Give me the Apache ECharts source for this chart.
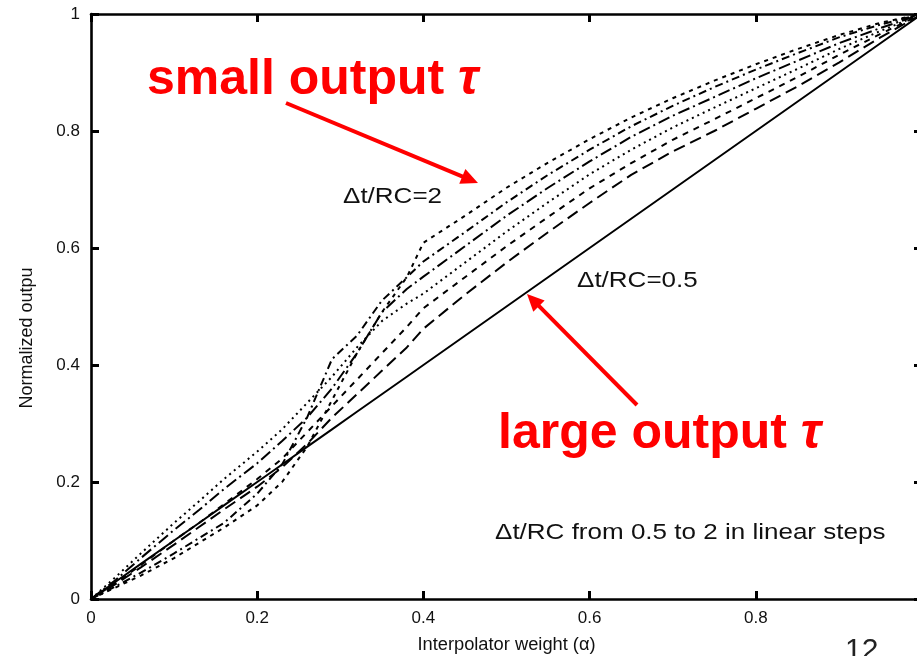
<!DOCTYPE html>
<html><head><meta charset="utf-8">
<script src="https://cdn.jsdelivr.net/npm/echarts@6/dist/echarts.min.js"></script>
<style>html,body{margin:0;padding:0;background:#fff}#c{width:917px;height:656px}</style>
</head><body><div id="c"></div>
<script>
// ---- data ----
const xValues   = [0, 0.03, 0.06, 0.1, 0.13, 0.16, 0.2, 0.23, 0.26, 0.29, 0.32, 0.35, 0.38, 0.4, 0.45, 0.5, 0.55, 0.6, 0.65, 0.7, 0.75, 0.8, 0.85, 0.9, 0.95, 1.0];
const dtRC_050  = [0, 0.03, 0.06, 0.1, 0.13, 0.16, 0.2, 0.23, 0.26, 0.29, 0.32, 0.35, 0.38, 0.4, 0.45, 0.5, 0.55, 0.6, 0.65, 0.7, 0.75, 0.8, 0.85, 0.9, 0.95, 1.0];
const dtRC_075  = [0, 0.026, 0.054, 0.093, 0.123, 0.153, 0.192, 0.225, 0.265, 0.31, 0.35, 0.39, 0.43, 0.462, 0.52, 0.575, 0.627, 0.677, 0.725, 0.765, 0.8, 0.838, 0.876, 0.917, 0.96, 1.0];
const dtRC_100  = [0, 0.028, 0.058, 0.1, 0.13, 0.162, 0.205, 0.24, 0.285, 0.33, 0.375, 0.42, 0.465, 0.497, 0.55, 0.603, 0.653, 0.702, 0.745, 0.785, 0.82, 0.856, 0.892, 0.93, 0.966, 1.0];
const dtRC_125  = [0, 0.038, 0.078, 0.13, 0.167, 0.205, 0.252, 0.29, 0.335, 0.38, 0.43, 0.475, 0.505, 0.522, 0.575, 0.628, 0.678, 0.726, 0.768, 0.806, 0.84, 0.873, 0.906, 0.94, 0.971, 1.0];
const dtRC_150  = [0, 0.033, 0.07, 0.118, 0.152, 0.188, 0.232, 0.27, 0.31, 0.36, 0.42, 0.49, 0.53, 0.551, 0.603, 0.655, 0.703, 0.748, 0.79, 0.826, 0.858, 0.89, 0.92, 0.95, 0.976, 1.0];
const dtRC_175  = [0, 0.022, 0.045, 0.078, 0.104, 0.13, 0.18, 0.23, 0.31, 0.41, 0.45, 0.51, 0.55, 0.577, 0.627, 0.678, 0.725, 0.768, 0.808, 0.843, 0.875, 0.905, 0.933, 0.96, 0.982, 1.0];
const dtRC_200  = [0, 0.02, 0.04, 0.07, 0.096, 0.122, 0.16, 0.2, 0.26, 0.34, 0.42, 0.49, 0.55, 0.609, 0.655, 0.703, 0.746, 0.786, 0.823, 0.856, 0.886, 0.914, 0.94, 0.964, 0.985, 1.0];
const xTicks = [0, 0.2, 0.4, 0.6, 0.8, 1];
const yTicks = [0, 0.2, 0.4, 0.6, 0.8, 1];

const seriesDefs = [
  {name: 'Δt/RC=0.5',  ys: dtRC_050, dash: 'solid'},
  {name: 'Δt/RC=0.75', ys: dtRC_075, dash: [12, 6]},
  {name: 'Δt/RC=1.0',  ys: dtRC_100, dash: [6, 6]},
  {name: 'Δt/RC=1.25', ys: dtRC_125, dash: [2, 4]},
  {name: 'Δt/RC=1.5',  ys: dtRC_150, dash: [12, 4, 2, 4]},
  {name: 'Δt/RC=1.75', ys: dtRC_175, dash: [8, 4, 2, 4]},
  {name: 'Δt/RC=2',    ys: dtRC_200, dash: [4, 5]}
];

const FONT = '"Liberation Sans", Arial, Helvetica, sans-serif';
const chart = echarts.init(document.getElementById('c'), null, {renderer: 'canvas'});

function arrow(x1, y1, x2, y2) {
  const dx = x2 - x1, dy = y2 - y1, L = Math.hypot(dx, dy), ux = dx / L, uy = dy / L;
  const hl = 17, hw = 8;
  const bx = x2 - ux * hl, by = y2 - uy * hl;
  return [
    {type: 'line', shape: {x1: x1, y1: y1, x2: bx + ux * 3, y2: by + uy * 3}, style: {stroke: '#ff0000', lineWidth: 4}},
    {type: 'polygon', shape: {points: [[x2, y2], [bx - uy * hw, by + ux * hw], [bx + uy * hw, by - ux * hw]]}, style: {fill: '#ff0000'}}
  ];
}

const axisLineStyle = {color: '#000', width: 2.6};
const tickStyle = {color: '#000', width: 3};

const option = {
  animation: false,
  backgroundColor: '#fff',
  grid: {left: 91, width: 831, top: 14, height: 585, containLabel: false, outerBoundsMode: 'none'},
  xAxis: [
    {type: 'value', min: 0, max: 1, interval: 0.2, position: 'bottom',
     axisLine: {show: true, onZero: false, lineStyle: axisLineStyle},
     axisTick: {show: true, inside: true, length: 8, lineStyle: tickStyle},
     axisLabel: {show: true, margin: 11, fontSize: 17, fontFamily: FONT, color: '#111',
       formatter: v => (v >= 1 ? '' : String(+v.toFixed(1)))},
     splitLine: {show: false},
     name: 'Interpolator weight (α)', nameLocation: 'middle', nameGap: 37,
     nameTextStyle: {fontSize: 18.3, fontFamily: FONT, color: '#111'}},
    {type: 'value', min: 0, max: 1, interval: 0.2, position: 'top',
     axisLine: {show: true, onZero: false, lineStyle: axisLineStyle},
     axisTick: {show: true, inside: true, length: 8, lineStyle: tickStyle},
     axisLabel: {show: false}, splitLine: {show: false}}
  ],
  yAxis: [
    {type: 'value', min: 0, max: 1, interval: 0.2, position: 'left',
     axisLine: {show: true, onZero: false, lineStyle: axisLineStyle},
     axisTick: {show: true, inside: true, length: 8, lineStyle: tickStyle},
     axisLabel: {show: true, margin: 11, fontSize: 17, fontFamily: FONT, color: '#111',
       formatter: v => String(+v.toFixed(1))},
     splitLine: {show: false}},
    {type: 'value', min: 0, max: 1, interval: 0.2, position: 'right',
     axisLine: {show: true, onZero: false, lineStyle: axisLineStyle},
     axisTick: {show: true, inside: true, length: 8, lineStyle: tickStyle},
     axisLabel: {show: false}, splitLine: {show: false}}
  ],
  series: seriesDefs.map(s => ({
    name: s.name, type: 'line', xAxisIndex: 0, yAxisIndex: 0,
    showSymbol: false, symbol: 'none', smooth: false,
    lineStyle: {color: '#000', width: 2, type: s.dash},
    data: xValues.map((x, i) => [x, s.ys[i]])
  })),
  graphic: [
    {type: 'text', x: 27, y: 338, rotation: Math.PI / 2,
     style: {text: 'Normalized outpu', fontSize: 18, fontFamily: FONT, fill: '#111', align: 'center', verticalAlign: 'middle'}},
    {type: 'text', x: 343, y: 197, scaleX: 1.21,
     style: {text: 'Δt/RC=2', fontSize: 21.5, fontFamily: FONT, fill: '#111', align: 'left', verticalAlign: 'middle'}},
    {type: 'text', x: 577, y: 281, scaleX: 1.21,
     style: {text: 'Δt/RC=0.5', fontSize: 21.5, fontFamily: FONT, fill: '#111', align: 'left', verticalAlign: 'middle'}},
    {type: 'text', x: 495, y: 533, scaleX: 1.21,
     style: {text: 'Δt/RC from 0.5 to 2 in linear steps', fontSize: 21.5, fontFamily: FONT, fill: '#111', align: 'left', verticalAlign: 'middle'}},
    {type: 'text', x: 147, y: 80,
     style: {text: '{a|small output }{b|τ}', fontSize: 50, fontFamily: FONT, fill: '#ff0000', align: 'left', verticalAlign: 'middle',
       rich: {a: {fontSize: 50, fontWeight: 'bold', fontFamily: FONT, fill: '#ff0000'},
              b: {fontSize: 50, fontWeight: 'bold', fontStyle: 'italic', fontFamily: FONT, fill: '#ff0000'}}}},
    {type: 'text', x: 498, y: 434,
     style: {text: '{a|large output }{b|τ}', fontSize: 50, fontFamily: FONT, fill: '#ff0000', align: 'left', verticalAlign: 'middle',
       rich: {a: {fontSize: 50, fontWeight: 'bold', fontFamily: FONT, fill: '#ff0000'},
              b: {fontSize: 50, fontWeight: 'bold', fontStyle: 'italic', fontFamily: FONT, fill: '#ff0000'}}}},
    {type: 'text', x: 845, y: 636,
     style: {text: '12', fontSize: 30, fontFamily: FONT, fill: '#222', align: 'left', verticalAlign: 'top'}}
  ].concat(arrow(286, 103, 478, 183), arrow(637, 405, 527, 294))
};
chart.setOption(option);
</script>
</body></html>
